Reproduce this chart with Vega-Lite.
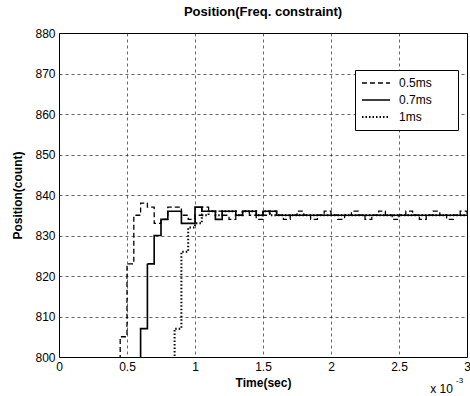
{
  "$schema": "https://vega.github.io/schema/vega-lite/v6.json",
  "width": 408,
  "height": 324,
  "autosize": {"type": "none"},
  "padding": {"left": 59, "top": 33, "right": 3, "bottom": 39},
  "background": "#ffffff",
  "title": {"text": "Position(Freq. constraint)", "font": "Liberation Sans", "fontSize": 13, "fontWeight": "bold", "color": "#000", "offset": 8, "frame": "group", "anchor": "middle"},
  "config": {"view": {"stroke": "#000", "strokeWidth": 1}, "font": "Liberation Sans"},
  "layer": [
    {
      "data": {"values": [
        {"t": 0.4, "pos": 795, "s": "0.5ms"}, {"t": 0.45, "pos": 805, "s": "0.5ms"}, {"t": 0.5, "pos": 823, "s": "0.5ms"}, {"t": 0.55, "pos": 835, "s": "0.5ms"}, {"t": 0.6, "pos": 838, "s": "0.5ms"}, {"t": 0.65, "pos": 837, "s": "0.5ms"}, {"t": 0.7, "pos": 833, "s": "0.5ms"}, {"t": 0.75, "pos": 834, "s": "0.5ms"}, {"t": 0.8, "pos": 837, "s": "0.5ms"}, {"t": 0.85, "pos": 837, "s": "0.5ms"}, {"t": 0.9, "pos": 835, "s": "0.5ms"}, {"t": 0.95, "pos": 834, "s": "0.5ms"}, {"t": 1.0, "pos": 835, "s": "0.5ms"}, {"t": 1.05, "pos": 837, "s": "0.5ms"}, {"t": 1.1, "pos": 836, "s": "0.5ms"}, {"t": 1.15, "pos": 836, "s": "0.5ms"}, {"t": 1.2, "pos": 835, "s": "0.5ms"}, {"t": 1.25, "pos": 834, "s": "0.5ms"}, {"t": 1.3, "pos": 835, "s": "0.5ms"}, {"t": 1.35, "pos": 836, "s": "0.5ms"}, {"t": 1.4, "pos": 835, "s": "0.5ms"}, {"t": 1.45, "pos": 834, "s": "0.5ms"}, {"t": 1.5, "pos": 835, "s": "0.5ms"}, {"t": 1.55, "pos": 836, "s": "0.5ms"}, {"t": 1.6, "pos": 835, "s": "0.5ms"}, {"t": 1.65, "pos": 834, "s": "0.5ms"}, {"t": 1.7, "pos": 835, "s": "0.5ms"}, {"t": 1.75, "pos": 836, "s": "0.5ms"}, {"t": 1.8, "pos": 835, "s": "0.5ms"}, {"t": 1.85, "pos": 834, "s": "0.5ms"}, {"t": 1.9, "pos": 835, "s": "0.5ms"}, {"t": 1.95, "pos": 836, "s": "0.5ms"}, {"t": 2.0, "pos": 835, "s": "0.5ms"}, {"t": 2.05, "pos": 834, "s": "0.5ms"}, {"t": 2.1, "pos": 835, "s": "0.5ms"}, {"t": 2.15, "pos": 836, "s": "0.5ms"}, {"t": 2.2, "pos": 835, "s": "0.5ms"}, {"t": 2.25, "pos": 834, "s": "0.5ms"}, {"t": 2.3, "pos": 835, "s": "0.5ms"}, {"t": 2.35, "pos": 836, "s": "0.5ms"}, {"t": 2.4, "pos": 835, "s": "0.5ms"}, {"t": 2.45, "pos": 834, "s": "0.5ms"}, {"t": 2.5, "pos": 835, "s": "0.5ms"}, {"t": 2.55, "pos": 836, "s": "0.5ms"}, {"t": 2.6, "pos": 835, "s": "0.5ms"}, {"t": 2.65, "pos": 834, "s": "0.5ms"}, {"t": 2.7, "pos": 835, "s": "0.5ms"}, {"t": 2.75, "pos": 836, "s": "0.5ms"}, {"t": 2.8, "pos": 835, "s": "0.5ms"}, {"t": 2.85, "pos": 834, "s": "0.5ms"}, {"t": 2.9, "pos": 835, "s": "0.5ms"}, {"t": 2.95, "pos": 836, "s": "0.5ms"}, {"t": 3.0, "pos": 835, "s": "0.5ms"},
        {"t": 0.55, "pos": 795, "s": "0.7ms"}, {"t": 0.6, "pos": 807, "s": "0.7ms"}, {"t": 0.65, "pos": 823, "s": "0.7ms"}, {"t": 0.7, "pos": 830, "s": "0.7ms"}, {"t": 0.75, "pos": 834, "s": "0.7ms"}, {"t": 0.8, "pos": 836, "s": "0.7ms"}, {"t": 0.9, "pos": 833, "s": "0.7ms"}, {"t": 1.0, "pos": 837, "s": "0.7ms"}, {"t": 1.05, "pos": 836, "s": "0.7ms"}, {"t": 1.15, "pos": 834, "s": "0.7ms"}, {"t": 1.2, "pos": 836, "s": "0.7ms"}, {"t": 1.3, "pos": 835, "s": "0.7ms"}, {"t": 1.35, "pos": 836, "s": "0.7ms"}, {"t": 1.45, "pos": 835, "s": "0.7ms"}, {"t": 1.5, "pos": 836, "s": "0.7ms"}, {"t": 1.6, "pos": 835, "s": "0.7ms"}, {"t": 3.0, "pos": 835, "s": "0.7ms"},
        {"t": 0.8, "pos": 795, "s": "1ms"}, {"t": 0.85, "pos": 807, "s": "1ms"}, {"t": 0.9, "pos": 826, "s": "1ms"}, {"t": 0.95, "pos": 832, "s": "1ms"}, {"t": 1.0, "pos": 833, "s": "1ms"}, {"t": 1.05, "pos": 835, "s": "1ms"}, {"t": 1.1, "pos": 836, "s": "1ms"}, {"t": 1.15, "pos": 835, "s": "1ms"}, {"t": 1.2, "pos": 836, "s": "1ms"}, {"t": 1.3, "pos": 835, "s": "1ms"}, {"t": 1.35, "pos": 836, "s": "1ms"}, {"t": 1.45, "pos": 835, "s": "1ms"}, {"t": 1.5, "pos": 836, "s": "1ms"}, {"t": 1.55, "pos": 835, "s": "1ms"}, {"t": 3.0, "pos": 835, "s": "1ms"}
      ]},
      "mark": {"type": "line", "interpolate": "step-after", "clip": true, "color": "#000"},
      "encoding": {
        "x": {"field": "t", "type": "quantitative", "scale": {"domain": [0, 3], "nice": false},
          "axis": {"values": [0, 0.5, 1, 1.5, 2, 2.5, 3], "format": "~g", "title": "Time(sec)", "titleFont": "Liberation Sans", "titleFontSize": 12, "titleFontWeight": "bold", "titleColor": "#000", "titlePadding": 5, "labelFont": "Liberation Sans", "labelFontSize": 12, "labelColor": "#000", "labelPadding": 4, "labelFlush": false, "ticks": false, "domain": false, "grid": true, "gridColor": "#000", "gridDash": [3, 3], "gridOpacity": 0.6}},
        "y": {"field": "pos", "type": "quantitative", "scale": {"domain": [800, 880], "nice": false},
          "axis": {"values": [800, 810, 820, 830, 840, 850, 860, 870, 880], "title": "Position(count)", "titleFont": "Liberation Sans", "titleFontSize": 12, "titleFontWeight": "bold", "titleColor": "#000", "titlePadding": 10, "labelFont": "Liberation Sans", "labelFontSize": 12, "labelColor": "#000", "labelPadding": 4, "labelFlush": false, "ticks": false, "domain": false, "grid": true, "gridColor": "#000", "gridDash": [3, 3], "gridOpacity": 0.6}},
        "strokeDash": {"field": "s", "type": "nominal", "scale": {"domain": ["0.5ms", "0.7ms", "1ms"], "range": [[5, 3], [1, 0], [1.5, 2]]},
          "legend": {"orient": "none", "legendX": 296, "legendY": 37, "title": "mm", "titleOrient": "right", "titleAngle": 0, "titleOpacity": 0, "titleFontSize": 11, "titlePadding": 0, "fillColor": "#fff", "strokeColor": "#000", "padding": 6, "symbolType": "stroke", "symbolSize": 784, "symbolStrokeColor": "#000", "clipHeight": 14, "rowPadding": 3, "labelOffset": 8, "labelFont": "Liberation Sans", "labelFontSize": 12, "labelColor": "#000"}},
        "strokeWidth": {"field": "s", "type": "nominal", "scale": {"domain": ["0.5ms", "0.7ms", "1ms"], "range": [1.3, 2, 1.5]},
          "legend": {"orient": "none", "legendX": 296, "legendY": 37, "title": "mm", "titleOrient": "right", "titleAngle": 0, "titleOpacity": 0, "titleFontSize": 11, "titlePadding": 0, "fillColor": "#fff", "strokeColor": "#000", "padding": 6, "symbolType": "stroke", "symbolSize": 784, "symbolStrokeColor": "#000", "clipHeight": 14, "rowPadding": 3, "labelOffset": 8, "labelFont": "Liberation Sans", "labelFontSize": 12, "labelColor": "#000"}}
      }
    },
    {
      "data": {"values": [{"t": 2.73, "pos": 792, "label": "x 10"}]},
      "mark": {"type": "text", "align": "left", "baseline": "middle", "font": "Liberation Sans", "fontSize": 12, "color": "#000", "clip": false},
      "encoding": {"x": {"field": "t", "type": "quantitative"}, "y": {"field": "pos", "type": "quantitative"}, "text": {"field": "label"}}
    },
    {
      "data": {"values": [{"t": 2.92, "pos": 794, "label": "-3"}]},
      "mark": {"type": "text", "align": "left", "baseline": "middle", "font": "Liberation Sans", "fontSize": 8, "color": "#000", "clip": false},
      "encoding": {"x": {"field": "t", "type": "quantitative"}, "y": {"field": "pos", "type": "quantitative"}, "text": {"field": "label"}}
    }
  ]
}
